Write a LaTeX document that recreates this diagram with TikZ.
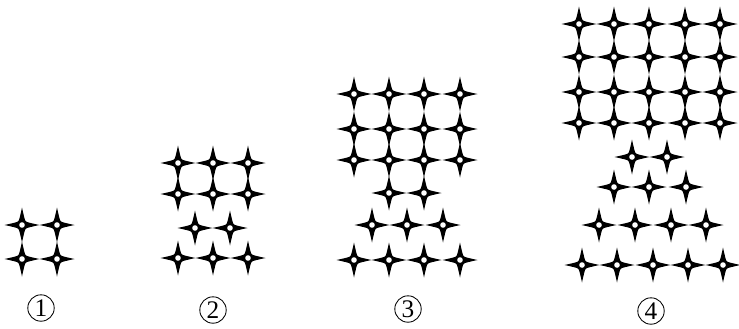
\documentclass[tikz,border=0pt]{standalone}
\usepackage{fontspec}
\setmainfont{Liberation Serif}
\begin{document}
\begin{tikzpicture}[x=0.25mm,y=-0.25mm,
  lbl/.style={circle,draw,line width=0.6pt,minimum size=6.6mm,inner sep=0pt,font=\fontsize{18}{18}\selectfont}]
\useasboundingbox (0,0) rectangle (739,328);
\newcommand{\sstar}[2]{%
  \fill[black] (#1+17.5,#2) .. controls (#1+10,#2+1.6) and (#1+5,#2+2.8) .. (#1+3.6,#2+3.6)
     .. controls (#1+2.8,#2+5) and (#1+1.6,#2+10) .. (#1,#2+17.5)
     .. controls (#1-1.6,#2+10) and (#1-2.8,#2+5) .. (#1-3.6,#2+3.6)
     .. controls (#1-5,#2+2.8) and (#1-10,#2+1.6) .. (#1-17.5,#2)
     .. controls (#1-10,#2-1.6) and (#1-5,#2-2.8) .. (#1-3.6,#2-3.6)
     .. controls (#1-2.8,#2-5) and (#1-1.6,#2-10) .. (#1,#2-17.5)
     .. controls (#1+1.6,#2-10) and (#1+2.8,#2-5) .. (#1+3.6,#2-3.6)
     .. controls (#1+5,#2-2.8) and (#1+10,#2-1.6) .. cycle;
  \fill[black] (#1,#2) circle[radius=5.6];
  \fill[white] (#1,#2) circle[radius=2.8];}
% figure 1
\foreach \y in {225,259}{\foreach \x in {22,57}{\sstar{\x}{\y}}}
\node[lbl] (l1) at (41,308) {1};
% figure 2
\foreach \y in {163,194,258}{\foreach \x in {178,213,248}{\sstar{\x}{\y}}}
\foreach \x in {195,230}{\sstar{\x}{228}}
\node[lbl] (l2) at (213,310) {2};
% figure 3
\foreach \y in {94,129,160,260}{\foreach \x in {354,389,424,460}{\sstar{\x}{\y}}}
\foreach \x in {389,424}{\sstar{\x}{193}}
\foreach \x in {372,407,443}{\sstar{\x}{225}}
\node[lbl] (l3) at (408,309) {3};
% figure 4
\foreach \y in {24,57,92,123}{\foreach \x in {579,614,649,685,720}{\sstar{\x}{\y}}}
\foreach \x in {632,667}{\sstar{\x}{157}}
\foreach \x in {614,649,686}{\sstar{\x}{187}}
\foreach \x in {599,635,671,706}{\sstar{\x}{225}}
\foreach \x in {582,617,653,688,723}{\sstar{\x}{265}}
\node[lbl] (l4) at (651,311) {4};
\end{tikzpicture}
\end{document}
